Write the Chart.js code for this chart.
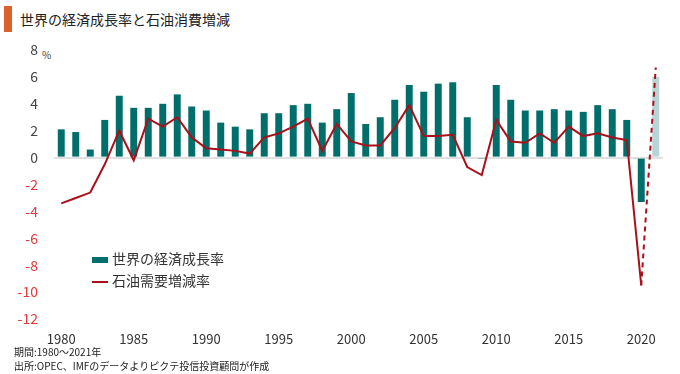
<!DOCTYPE html>
<html>
<head>
<meta charset="utf-8">
<script src="https://cdn.jsdelivr.net/npm/chart.js@4"></script>
<style>
  body { margin: 0; background: #fff; font-family: "Noto Sans CJK JP", sans-serif; }
  #wrap { position: relative; width: 680px; height: 374px; overflow: hidden; }
  #chart { position: absolute; left: 0; top: 0; }
  .titleBar { position: absolute; left: 4px; top: 6px; width: 8px; height: 26px; background: #d9622b; }
  .title { position: absolute; left: 20px; top: 9px; font-size: 14px; color: #222; }
  .pct { position: absolute; left: 42px; top: 47px; font-size: 10px; color: #444; }
  .legend { position: absolute; left: 92px; font-size: 14px; color: #333; }
  .legend span.box { display: inline-block; width: 16px; height: 6px; background: #006e6b; vertical-align: middle; margin-right: 4px; }
  .legend span.ln { display: inline-block; width: 16px; height: 2px; background: #a8101a; vertical-align: middle; margin-right: 4px; }
  .note { position: absolute; left: 14px; font-size: 10px; color: #222; }
</style>
</head>
<body>
<div id="wrap">
  <div class="titleBar"></div>
  <div class="title">世界の経済成長率と石油消費増減</div>
  <div class="pct">%</div>
  <canvas id="chart" width="680" height="345"></canvas>
  <div class="legend" style="top:248px"><span class="box"></span>世界の経済成長率</div>
  <div class="legend" style="top:270px"><span class="ln"></span>石油需要増減率</div>
  <div class="note" style="top:344px">期間:1980～2021年</div>
  <div class="note" style="top:358px">出所:OPEC、IMFのデータよりピクテ投信投資顧問が作成</div>
</div>
<script>
// 年
var anios = [1980,1981,1982,1983,1984,1985,1986,1987,1988,1989,
             1990,1991,1992,1993,1994,1995,1996,1997,1998,1999,
             2000,2001,2002,2003,2004,2005,2006,2007,2008,2009,
             2010,2011,2012,2013,2014,2015,2016,2017,2018,2019,
             2020,2021];

// 世界の経済成長率 (%)
var crecimiento = [2.1,1.9,0.6,2.8,4.6,3.7,3.7,4.0,4.7,3.8,
                   3.5,2.6,2.3,2.1,3.3,3.3,3.9,4.0,2.6,3.6,
                   4.8,2.5,3.0,4.3,5.4,4.9,5.5,5.6,3.0,-0.1,
                   5.4,4.3,3.5,3.5,3.6,3.5,3.4,3.9,3.6,2.8,
                   -3.3,6.0];

// 石油需要増減率 (%)
var petroleo = [-3.4,-3.0,-2.6,-0.5,2.0,-0.2,2.9,2.3,3.0,1.5,
                0.7,0.6,0.5,0.3,1.5,1.8,2.3,2.9,0.5,2.5,
                1.2,0.9,0.9,2.2,3.9,1.6,1.6,1.7,-0.7,-1.3,
                2.8,1.2,1.1,1.8,1.1,2.3,1.6,1.8,1.5,1.3,
                -9.5,6.7];

var ticksY = [8,6,4,2,0,-2,-4,-6,-8,-10,-12];

var ultimo = anios.length - 1;
var coloresBarra = anios.map(function (a, i) { return i === ultimo ? '#b9d4d7' : '#006e6b'; });

var ctx = document.getElementById('chart').getContext('2d');
new Chart(ctx, {
    type: 'bar',
    data: {
        labels: anios,
        datasets: [{
            type: 'line',
            label: '石油需要増減率',
            data: petroleo,
            borderColor: '#a8101a',
            borderWidth: 2,
            pointRadius: 0,
            tension: 0,
            order: 0,
            segment: {
                borderDash: function (c) { return c.p1DataIndex === ultimo ? [5, 4] : undefined; }
            }
        }, {
            type: 'bar',
            label: '世界の経済成長率',
            data: crecimiento,
            backgroundColor: coloresBarra,
            barPercentage: 0.48,
            categoryPercentage: 1,
            order: 1
        }]
    },
    options: {
        responsive: false,
        animation: false,
        layout: { padding: { top: 50, right: 17, left: 0, bottom: 0 } },
        plugins: { legend: { display: false }, tooltip: { enabled: false } },
        scales: {
            x: {
                grid: { display: false },
                border: { display: false },
                afterFit: function (s) { s.height = 26; },
                ticks: {
                    autoSkip: false,
                    maxRotation: 0,
                    padding: 4,
                    color: '#333',
                    font: { family: 'Noto Sans CJK JP', size: 13 },
                    callback: function (v) {
                        var a = anios[v];
                        return a % 5 === 0 ? String(a) : '';
                    }
                }
            },
            y: {
                min: -12,
                max: 8,
                afterFit: function (s) { s.width = 54; },
                afterBuildTicks: function (s) {
                    s.ticks = ticksY.map(function (v) { return { value: v }; });
                },
                border: { display: false },
                grid: {
                    drawTicks: false,
                    lineWidth: 2,
                    color: function (c) { return c.tick && c.tick.value === 0 ? '#e0e0e0' : 'rgba(0,0,0,0)'; }
                },
                ticks: {
                    padding: 16,
                    font: { family: 'Noto Sans CJK JP', size: 14 },
                    color: function (c) { return c.tick && c.tick.value < 0 ? '#e0393e' : '#444'; }
                }
            }
        }
    }
});
</script>
</body>
</html>
